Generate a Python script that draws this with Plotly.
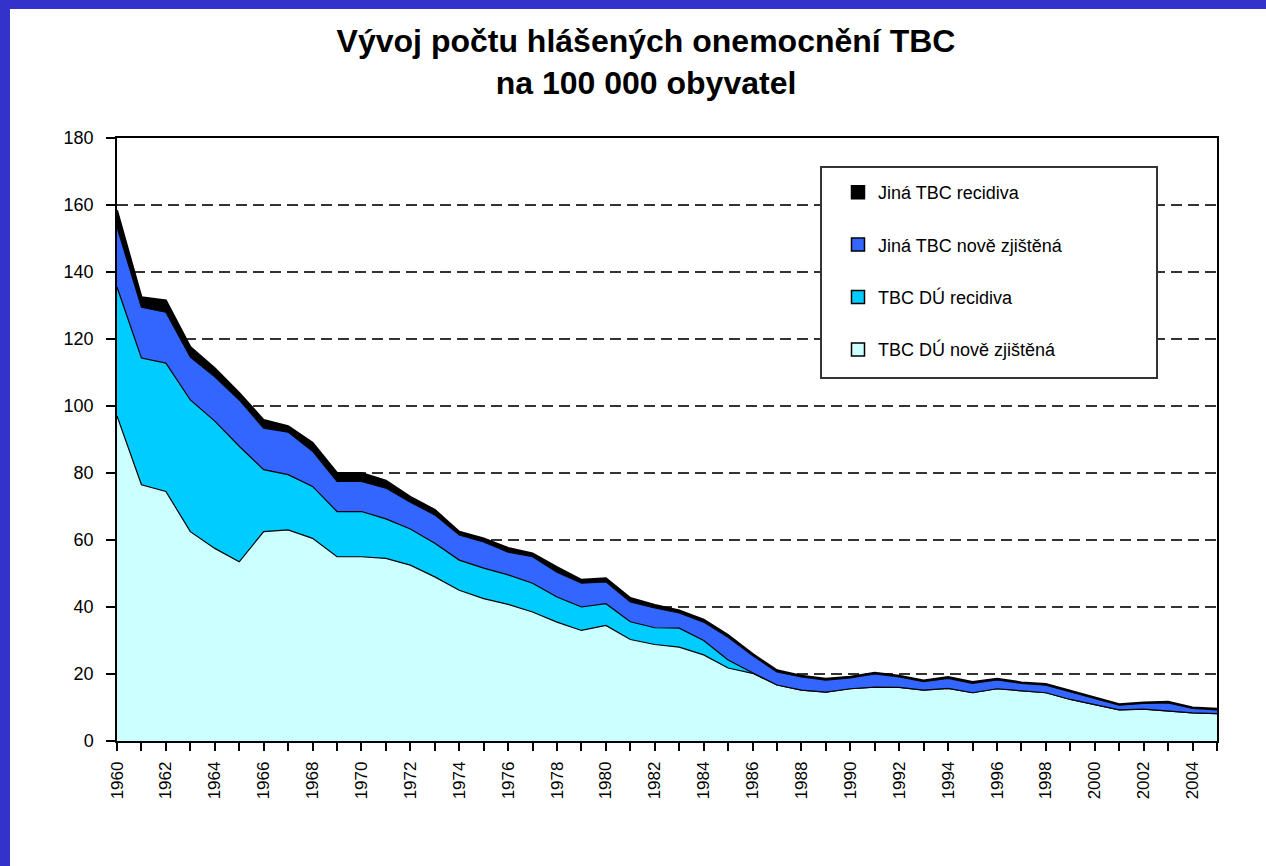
import plotly.graph_objects as go

years = list(range(1960, 2006))

du_nove = [97, 76.5, 74.5, 62.5, 57.5, 53.5, 62.5, 63, 60.5, 55, 55, 54.5, 52.5, 49, 45,
           42.5, 40.8, 38.5, 35.5, 33, 34.5, 30.3, 28.8, 28, 25.7, 21.8, 20.2, 16.7, 15.2, 14.6,
           15.6, 16.1, 16, 15.2, 15.7, 14.4, 15.6, 14.9, 14.4, 12.4, 10.9, 9.3, 9.5, 9.0, 8.4, 8.2]
du_recidiva = [38.5, 37.8, 38.3, 39.3, 38, 34.5, 18.5, 16.5, 15.5, 13.5, 13.5, 11.8, 10.8, 10, 9,
               9.1, 8.8, 8.6, 7.5, 7, 6.5, 5.3, 5, 5.7, 4.3, 2.4, 0.2, 0, 0, 0,
               0, 0, 0, 0, 0, 0, 0, 0, 0, 0, 0, 0, 0, 0, 0, 0]
jina_nove = [17.9, 15.2, 15.2, 12.8, 13.2, 13.8, 12.4, 12.7, 10.5, 9, 9, 9.2, 8, 8.5, 7.5,
             7.8, 6.8, 7.9, 7.4, 7.1, 6.5, 5.9, 5.9, 4.5, 5.5, 6.8, 5.1, 3.9, 3.9, 3.6,
             3.2, 3.9, 3.1, 2.5, 3.0, 2.8, 2.6, 2.3, 2.3, 2.3, 1.8, 1.4, 1.7, 2.4, 1.3, 1.1]
jina_recidiva = [5, 3, 3.5, 3, 2.6, 2.1, 2.4, 1.8, 2.5, 2.5, 2.5, 2.2, 1.6, 1.5, 1, 1.1, 1.2, 1,
                 1.5, 1, 1.1, 1.2, 0.9, 0.8, 0.7, 0.6, 0.5, 0.5, 0.4, 0.4, 0.4, 0.4, 0.4, 0.4,
                 0.4, 0.4, 0.4, 0.3, 0.3, 0.3, 0.3, 0.3, 0.3, 0.3, 0.3, 0.3]

series_names = ["TBC DÚ nově zjištěná", "TBC DÚ recidiva", "Jiná TBC nově zjištěná", "Jiná TBC recidiva"]
series_values = [du_nove, du_recidiva, jina_nove, jina_recidiva]
series_colors = ["#CCFFFF", "#00CCFF", "#3366FF", "#000000"]

title_text = "<b>Vývoj počtu hlášených onemocnění TBC<br>na 100 000 obyvatel</b>"

FONT = "Liberation Sans, Arial, sans-serif"

fig = go.Figure()
for name, vals, col in zip(series_names, series_values, series_colors):
    fig.add_trace(go.Scatter(
        x=years, y=vals, name=name, stackgroup="one", mode="lines",
        line=dict(color="black", width=2 if col == "#000000" else 1.2),
        fillcolor=col, showlegend=False, hoverinfo="x+y+name"))

# legend entries (square symbols), top entry first
for i, (name, col) in enumerate(zip(series_names[::-1], series_colors[::-1])):
    fig.add_trace(go.Scatter(
        x=[None], y=[None], name=name, mode="markers", legendgroup=f"g{i}",
        marker=dict(symbol="square", size=13, color=col, line=dict(color="black", width=1.5))))

L, R, T, B = 117, 1217, 138, 741
W, H = 1266, 866
def px(x):
    return (x - L) / (R - L)
def py(y):
    return (B - y) / (B - T)

shapes = [
    dict(type="rect", xref="paper", yref="paper", x0=px(-5), x1=px(10), y0=py(H + 5), y1=py(-5),
         fillcolor="#3333CC", line=dict(width=0), layer="below"),
    dict(type="rect", xref="paper", yref="paper", x0=px(-5), x1=px(W + 5), y0=py(9), y1=py(-5),
         fillcolor="#3333CC", line=dict(width=0), layer="below"),
    dict(type="rect", xref="paper", yref="paper", x0=px(821), x1=px(1157), y0=py(378), y1=py(167),
         fillcolor="white", line=dict(color="#333333", width=2), layer="above"),
]

fig.update_layout(
    width=W, height=H,
    margin=dict(l=L, r=W - R, t=T, b=H - B, pad=0),
    paper_bgcolor="white", plot_bgcolor="white",
    font=dict(family=FONT, color="black", size=17),
    title=dict(text=title_text, x=px(646), xanchor="center", xref="paper",
               y=1 - 52 / H, yanchor="top", yref="container",
               font=dict(family=FONT, size=32, color="black")),
    shapes=shapes,
    legend=dict(x=px(838), y=py(174), xanchor="left", yanchor="top",
                bgcolor="rgba(0,0,0,0)", borderwidth=0, traceorder="grouped",
                tracegroupgap=26, font=dict(family=FONT, size=18, color="black")),
    showlegend=True,
    xaxis=dict(range=[1960, 2005], tickmode="linear", tick0=1960, dtick=2, tickangle=-90,
               ticks="outside", ticklen=8, tickwidth=1.5, tickcolor="black",
               ticklabelstandoff=4,
               showline=True, linecolor="black", linewidth=1.5, mirror=True,
               showgrid=False, zeroline=False,
               minor=dict(dtick=1, tick0=1960, ticks="outside", ticklen=8, tickwidth=1.5,
                          tickcolor="black", showgrid=False),
               tickfont=dict(family=FONT, size=17, color="black")),
    yaxis=dict(range=[0, 180], tickmode="linear", tick0=0, dtick=20,
               ticks="outside", ticklen=9, tickwidth=1.5, tickcolor="black",
               ticklabelstandoff=9,
               showline=True, linecolor="black", linewidth=1.5, mirror=True,
               showgrid=True, gridcolor="#333333", gridwidth=1.5, griddash="11px,6px",
               zeroline=False, tickfont=dict(family=FONT, size=18, color="black")),
)

fig.write_html("out.html", config={"displayModeBar": False},
               post_script="document.body.style.margin='0';")
